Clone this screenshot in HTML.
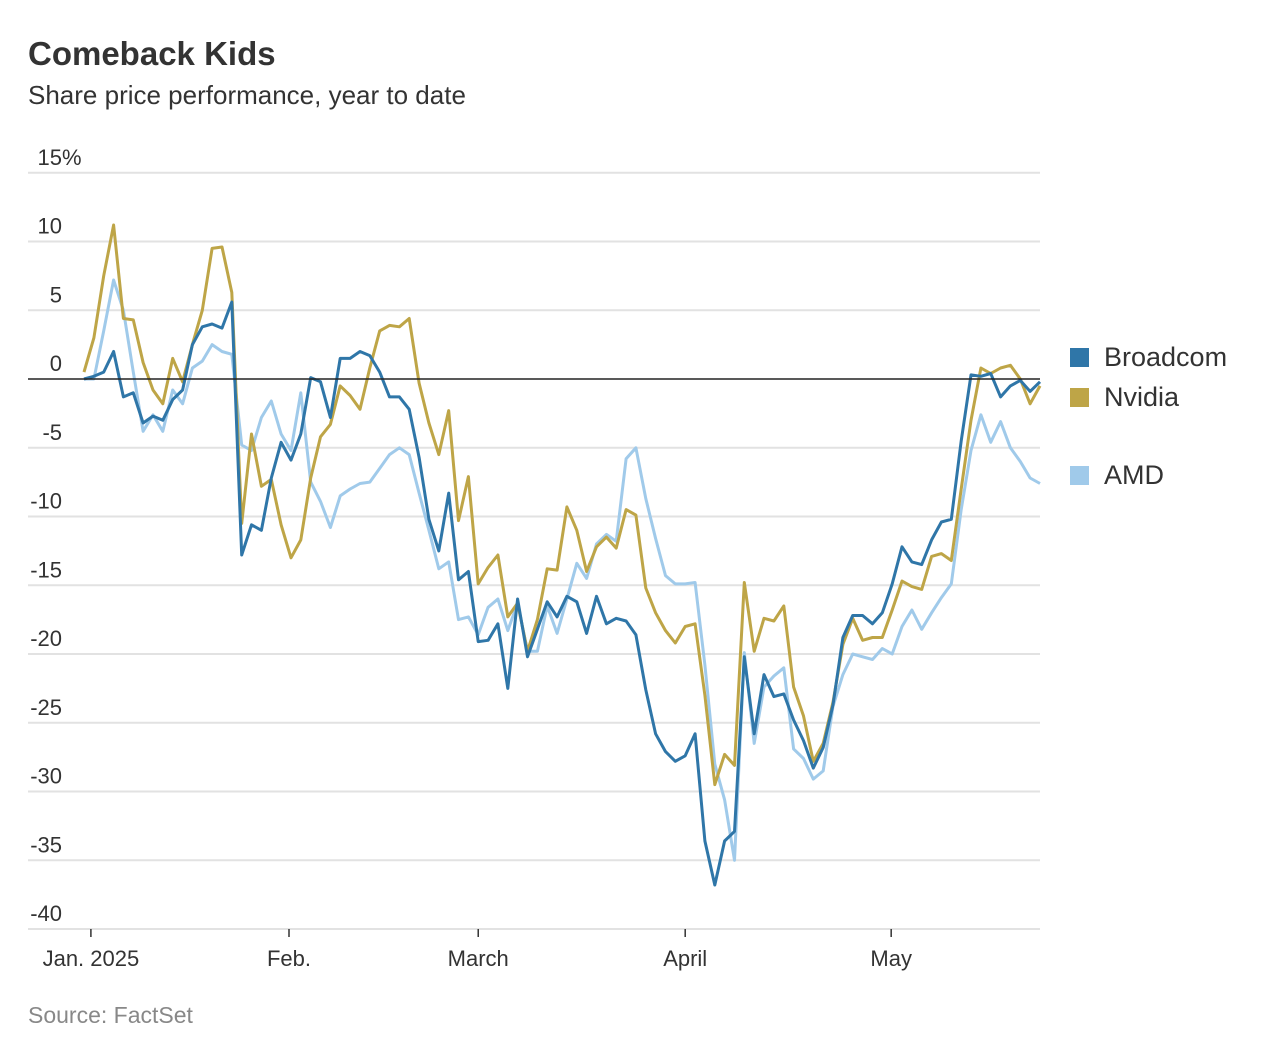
<!DOCTYPE html>
<html><head><meta charset="utf-8"><style>
body{margin:0;background:#fff;width:1264px;height:1046px;overflow:hidden;font-family:"Liberation Sans",sans-serif;}
</style></head><body>
<svg id="chart" width="1264" height="1046" xmlns="http://www.w3.org/2000/svg" font-family="Liberation Sans, sans-serif">
<text x="28" y="65" font-size="33" font-weight="bold" fill="#333">Comeback Kids</text>
<text x="28" y="104" font-size="26" fill="#333">Share price performance, year to date</text>
<text x="28" y="1023" font-size="23" fill="#888">Source: FactSet</text>
<g id="grid"></g><g id="lines"></g><g id="legend"></g>
</svg>
<script>
const broadcom=[0,0.2,0.5,2,-1.3,-1,-3.2,-2.7,-3,-1.5,
-0.8,2.5,3.8,4,3.7,5.6,-12.8,-10.6,-11,-7.2,
-4.6,-5.9,-4,0.1,-0.2,-2.8,1.5,1.5,2,1.7,
0.5,-1.3,-1.3,-2.2,-5.7,-10.2,-12.5,-8.3,-14.6,-14,
-19.1,-19,-17.8,-22.5,-16,-20.2,-18.2,-16.2,-17.3,-15.8,
-16.2,-18.5,-15.8,-17.8,-17.4,-17.6,-18.6,-22.6,-25.8,-27.1,
-27.8,-27.4,-25.8,-33.6,-36.8,-33.6,-32.9,-20.2,-25.8,-21.5,
-23.1,-22.9,-24.8,-26.3,-28.3,-26.8,-23.7,-18.8,-17.2,-17.2,
-17.8,-17,-14.9,-12.2,-13.3,-13.5,-11.7,-10.4,-10.2,-4.5,
0.3,0.2,0.4,-1.3,-0.5,-0.1,-0.9,-0.2];
const nvidia=[0.5,3,7.5,11.2,4.4,4.3,1.2,-0.8,-1.8,1.5,
-0.2,2.5,5,9.5,9.6,6.3,-10.5,-4,-7.8,-7.3,
-10.6,-13,-11.7,-7.2,-4.2,-3.3,-0.5,-1.2,-2.2,0.8,
3.5,3.9,3.8,4.4,-0.3,-3.2,-5.5,-2.3,-10.3,-7.1,
-14.9,-13.7,-12.8,-17.3,-16.3,-19.8,-17.5,-13.8,-13.9,-9.3,
-11,-14,-12.2,-11.5,-12.3,-9.5,-9.9,-15.2,-17,-18.3,
-19.2,-18,-17.8,-23,-29.5,-27.3,-28.1,-14.8,-19.8,-17.4,
-17.6,-16.5,-22.4,-24.5,-27.8,-26.5,-23.5,-19.3,-17.4,-19,
-18.8,-18.8,-16.8,-14.7,-15.1,-15.3,-12.9,-12.7,-13.2,-8,
-3,0.8,0.4,0.8,1,0,-1.8,-0.5];
const amd=[0,0,3.5,7.2,5,0.5,-3.8,-2.6,-3.8,-0.8,
-1.8,0.8,1.3,2.5,2,1.8,-4.8,-5.2,-2.8,-1.6,
-4,-5.2,-1,-7.5,-8.9,-10.8,-8.5,-8,-7.6,-7.5,
-6.5,-5.5,-5,-5.5,-8.3,-11,-13.8,-13.3,-17.5,-17.3,
-18.6,-16.6,-16,-18.3,-16.3,-19.8,-19.8,-16.5,-18.5,-16,
-13.4,-14.5,-12,-11.3,-11.8,-5.8,-5,-8.7,-11.6,-14.3,
-14.9,-14.9,-14.8,-20.8,-28,-30.6,-35,-19.9,-26.5,-22.4,
-21.6,-21,-26.9,-27.6,-29.1,-28.5,-23.8,-21.5,-20,-20.2,
-20.4,-19.6,-20,-18,-16.8,-18.2,-17,-15.9,-14.9,-9.5,
-5.2,-2.6,-4.6,-3.1,-5,-6,-7.2,-7.6];
const yTicks=[15,10,5,0,-5,-10,-15,-20,-25,-30,-35,-40];
const xTickLabels=["Jan. 2025","Feb.","March","April","May"];
const xTickIdx=[0.7,20.8,40.0,61.0,81.9];

const NS="http://www.w3.org/2000/svg";
const X0=84,X1=1040,Y0=379,K=13.75;
const n=broadcom.length;
function x(i){return X0+i*(X1-X0)/(n-1);}
function y(v){return Y0-v*K;}
function mk(tag,attrs,parent){const e=document.createElementNS(NS,tag);for(const k in attrs)e.setAttribute(k,attrs[k]);parent.appendChild(e);return e;}
const grid=document.getElementById('grid'),lines=document.getElementById('lines'),legend=document.getElementById('legend');
yTicks.forEach(v=>{
  if(v!==0){const g=mk('line',{x1:28,x2:1040,y1:y(v),y2:y(v),stroke:'#e2e2e2','stroke-width':2},grid);
  
  }
  const t=mk('text',{x:62,y:y(v)-8,'font-size':22,fill:'#333','text-anchor':'end'},grid);
  t.textContent=String(v).replace('-','-');
  
  
  if(v===15){const p=mk('text',{x:62,y:y(v)-8,'font-size':22,fill:'#333'},grid);p.textContent='%';
  
  }
});
xTickIdx.forEach((ti,k)=>{
  const l=mk('line',{x1:x(ti),x2:x(ti),y1:y(-40),y2:y(-40)+8,stroke:'#333','stroke-width':1.5},grid);
  
  
  const t=mk('text',{x:x(ti),y:966,'font-size':22,fill:'#333','text-anchor':'middle'},grid);
  t.textContent=xTickLabels[k];
  
  
});
const series=[["amd",amd,"#a0caea"],["nvidia",nvidia,"#bea547"],["broadcom",broadcom,"#2f76a8"]];
series.forEach(s=>{
  const d=s[1].map((v,i)=>(i?'L':'M')+x(i).toFixed(1)+','+y(v).toFixed(1)).join('');
  const p=mk('path',{d:d,fill:'none',stroke:s[2],'stroke-width':3,'stroke-linejoin':'round'},lines);
  
  
});
const z=mk('line',{x1:28,x2:1040,y1:y(0),y2:y(0),stroke:'#222','stroke-width':1.5},lines);


const leg=[["Broadcom","#2f76a8",357],["Nvidia","#bea547",397],["AMD","#a0caea",475]];
leg.forEach(e=>{
  const r=mk('rect',{x:1070,y:e[2]-9,width:19,height:19,fill:e[1]},legend);
  
  
  const t=mk('text',{x:1104,y:e[2]+9,'font-size':27,fill:'#333'},legend);
  t.textContent=e[0];
  
  
});
</script>
</body></html>
